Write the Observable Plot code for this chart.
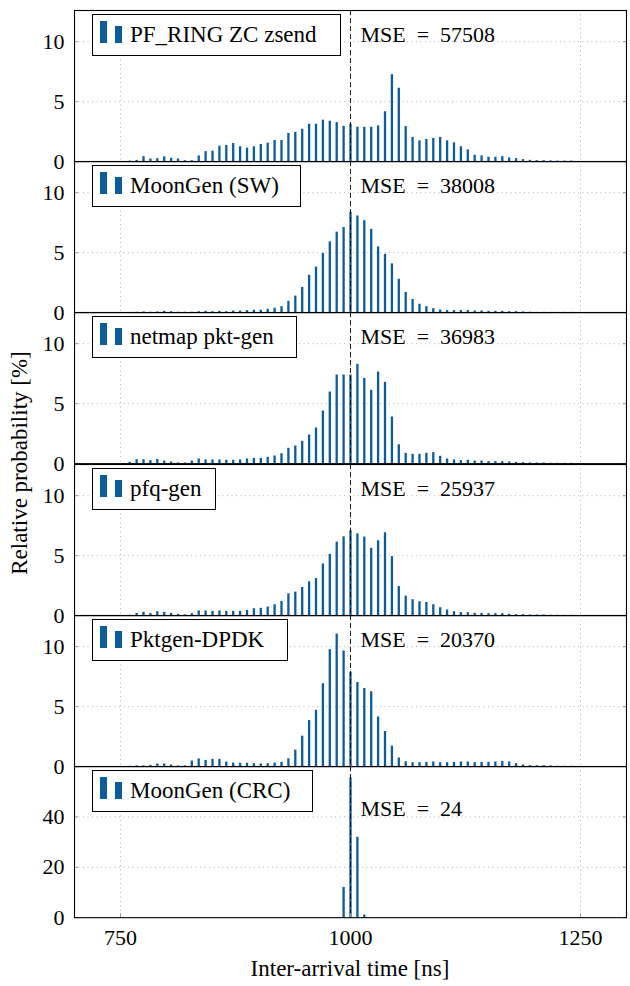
<!DOCTYPE html>
<html>
<head>
<meta charset="utf-8">
<script src="https://cdn.jsdelivr.net/npm/d3@7"></script>
<script src="https://cdn.jsdelivr.net/npm/@observablehq/plot@0.6"></script>
<style>
  body { margin: 0; background: #fff; }
  #chart { position: relative; width: 630px; height: 986px; font-family: "Liberation Serif", "DejaVu Serif", serif; color: #000; overflow: hidden; }
  .panel { position: absolute; left: 0; }
  .legend { position: absolute; left: 92px; height: 42px; border: 1px solid #000; background: #fff; box-sizing: border-box; font-size: 23px; white-space: nowrap; }
  .legend .ico { position: absolute; bottom: 12px; width: 7px; background: #0b5c9b; }
  .legend .lab { position: absolute; left: 37px; top: 50%; transform: translateY(-50%); }
  .xlabel { position: absolute; left: 74px; width: 552px; top: 956px; text-align: center; font-size: 23px; }
  .ylabel { position: absolute; left: 20px; top: 463px; font-size: 23px; transform: translate(-50%, -50%) rotate(-90deg); white-space: nowrap; }
</style>
</head>
<body>
<div id="chart"></div>
<script>
// Bin centres (ns)
const bins = [752.5, 760, 767.5, 775, 782.5, 790, 797.5, 805, 812.5, 820, 827.5, 835, 842.5, 850, 857.5, 865, 872.5, 880, 887.5, 895, 902.5, 910, 917.5, 925, 932.5, 940, 947.5, 955, 962.5, 970, 977.5, 985, 992.5, 1000,
  1007.5, 1015, 1022.5, 1030, 1037.5, 1045, 1052.5, 1060, 1067.5, 1075, 1082.5, 1090, 1097.5, 1105, 1112.5, 1120, 1127.5, 1135, 1142.5, 1150, 1157.5, 1165, 1172.5, 1180, 1187.5, 1195, 1202.5, 1210, 1217.5, 1225, 1232.5, 1240];

const pfring = [0, 0.05, 0.1, 0.42, 0.22, 0.25, 0.4, 0.28, 0.22, 0.08, 0.08, 0.48, 0.84, 0.87, 1.29, 1.35, 1.52, 1.24, 1.12, 1.24, 1.43, 1.54, 1.77, 1.77, 2.36, 2.44, 2.70, 3.12, 3.12, 3.46, 3.37, 3.26, 2.95, 3.12,
  2.87, 2.87, 2.87, 2.98, 4.16, 7.25, 6.12, 2.92, 2.02, 1.74, 1.85, 1.94, 2.02, 1.74, 1.57, 1.24, 0.98, 0.53, 0.48, 0.37, 0.37, 0.42, 0.31, 0.25, 0.17, 0.11, 0.08, 0.08, 0.06, 0.05, 0.05, 0.05];
const moongenSW = [0, 0, 0.03, 0.06, 0.03, 0.06, 0.11, 0.08, 0.03, 0.03, 0.03, 0.08, 0.11, 0.08, 0.11, 0.08, 0.14, 0.14, 0.17, 0.2, 0.2, 0.28, 0.37, 0.5, 0.95, 1.38, 2.1, 3.12, 3.8, 4.94, 5.9, 6.71, 7.1, 8.37,
  8.06, 7.67, 6.94, 5.48, 4.86, 4.07, 2.78, 1.69, 1.1, 0.7, 0.5, 0.34, 0.22, 0.17, 0.17, 0.17, 0.17, 0.14, 0.14, 0.11, 0.11, 0.11, 0.08, 0.08, 0.06, 0.03, 0.02, 0.02, 0.02, 0.02, 0.02, 0.02];
const netmap = [0, 0.11, 0.33, 0.33, 0.25, 0.36, 0.22, 0.14, 0.06, 0.06, 0.22, 0.39, 0.31, 0.31, 0.31, 0.28, 0.28, 0.31, 0.39, 0.44, 0.44, 0.53, 0.64, 0.83, 1.28, 1.47, 1.86, 2.39, 2.97, 4.39, 5.97, 7.39, 7.39, 7.39,
  8.28, 7.11, 6.11, 7.64, 6.78, 3.89, 1.58, 0.86, 0.78, 0.78, 0.86, 0.92, 0.61, 0.39, 0.31, 0.25, 0.28, 0.22, 0.22, 0.17, 0.17, 0.17, 0.14, 0.11, 0.08, 0.06, 0.06, 0.06, 0.03, 0.03, 0.03, 0.03];
const pfq = [0, 0.03, 0.19, 0.28, 0.17, 0.33, 0.28, 0.19, 0.11, 0.06, 0.17, 0.39, 0.39, 0.36, 0.39, 0.36, 0.36, 0.36, 0.44, 0.58, 0.61, 0.72, 0.91, 1.19, 1.82, 1.96, 2.35, 2.82, 3.09, 4.31, 5.11, 6.13, 6.57, 7.07,
  6.82, 6.55, 5.61, 6.24, 6.91, 4.92, 2.43, 1.63, 1.33, 1.16, 1.1, 0.91, 0.66, 0.47, 0.33, 0.25, 0.25, 0.19, 0.19, 0.17, 0.17, 0.17, 0.11, 0.08, 0.08, 0.06, 0.06, 0.06, 0.03, 0.03, 0.03, 0.03];
const pktgen = [0, 0.03, 0.06, 0.06, 0.11, 0.22, 0.22, 0.14, 0.06, 0.06, 0.47, 0.64, 0.52, 0.61, 0.61, 0.39, 0.3, 0.28, 0.28, 0.25, 0.22, 0.25, 0.3, 0.36, 0.66, 1.38, 2.54, 3.84, 4.7, 6.91, 9.75, 11.05, 9.64, 7.87,
  7.02, 6.52, 6.24, 4.14, 2.93, 1.71, 0.72, 0.41, 0.33, 0.33, 0.36, 0.39, 0.33, 0.33, 0.36, 0.39, 0.39, 0.33, 0.36, 0.36, 0.39, 0.44, 0.39, 0.25, 0.14, 0.08, 0.08, 0.08, 0.06, 0.03, 0.03, 0.03];
const crcBins = [992.5, 1000, 1007.5, 1015];
const crcVals = [12, 55.5, 31.9, 1.06];

const names = ["PF_RING ZC zsend", "MoonGen (SW)", "netmap pkt-gen", "pfq-gen", "Pktgen-DPDK", "MoonGen (CRC)"];
const mse = ["57508", "38008", "36983", "25937", "20370", "24"];
const xTicks = [750, 1000, 1250];
const yTicksSmall = [0, 5, 10];
const yTicksBig = [0, 20, 40];

const series = [
  {bins, vals: pfring, ymax: 12.6, ticks: yTicksSmall},
  {bins, vals: moongenSW, ymax: 12.6, ticks: yTicksSmall},
  {bins, vals: netmap, ymax: 12.6, ticks: yTicksSmall},
  {bins, vals: pfq, ymax: 12.6, ticks: yTicksSmall},
  {bins, vals: pktgen, ymax: 12.6, ticks: yTicksSmall},
  {bins: crcBins, vals: crcVals, ymax: 60, ticks: yTicksBig}
];
const legendWidths = [249, 209, 205, 124, 196, 221];
const barColor = "#0b5c9b";
const gridColor = "#b4b4b4";

const chart = document.getElementById("chart");
const panelTop0 = 10, panelH = 151.17;

series.forEach((s, i) => {
  const last = i === series.length - 1;
  const mt = 10, mb = last ? 69 : 10;
  const rows = s.bins.map((b, j) => ({t: b, p: s.vals[j]}));
  const svg = Plot.plot({
    width: 630,
    height: panelH + mt + mb,
    marginLeft: 74, marginRight: 4, marginTop: mt, marginBottom: mb,
    style: {fontFamily: '"Liberation Serif", serif', fontSize: "22px", background: "transparent", overflow: "visible", color: "#000"},
    x: {domain: [700, 1300]},
    y: {domain: [0, s.ymax]},
    marks: [
      Plot.gridX(xTicks, {stroke: gridColor, strokeOpacity: 1, strokeDasharray: "1,3.5", strokeWidth: 1}),
      Plot.gridY(s.ticks, {stroke: gridColor, strokeOpacity: 1, strokeDasharray: "1,3.5", strokeWidth: 1}),
      Plot.ruleX(rows, {x: "t", y1: 0, y2: "p", stroke: barColor, strokeWidth: 2.3}),
      Plot.ruleX([1000], {stroke: "#000", strokeDasharray: "5,3", strokeWidth: 0.9}),
      Plot.axisY(s.ticks, {anchor: "left", tickSize: -4, tickPadding: 14, stroke: "#999", label: null, fontSize: 22}),
      Plot.axisY(s.ticks, {anchor: "right", tickSize: -4, stroke: "#999", label: null, tickFormat: () => ""}),
      last
        ? Plot.axisX(xTicks, {anchor: "bottom", tickSize: -4, tickPadding: 16, stroke: "#999", label: null, fontSize: 22, tickFormat: d => String(d)})
        : Plot.axisX([], {label: null}),
      Plot.text([{t: 1000, y: s.ymax, label: "MSE\u2002=\u2002" + mse[i]}], {x: "t", y: "y", text: "label", textAnchor: "start", lineAnchor: "middle", dx: 10, dy: last ? 42 : 24, fontSize: 22}),
      Plot.frame({stroke: "#000", strokeWidth: 1.1})
    ]
  });
  svg.classList.add("panel");
  svg.style.top = (panelTop0 + i * panelH - mt) + "px";
  chart.appendChild(svg);

  const lg = document.createElement("div");
  lg.className = "legend";
  lg.style.top = (panelTop0 + i * panelH + 4) + "px";
  lg.style.width = legendWidths[i] + "px";
  const ico1 = document.createElement("span");
  ico1.className = "ico"; ico1.style.left = "7px"; ico1.style.height = "22px";
  const ico2 = document.createElement("span");
  ico2.className = "ico"; ico2.style.left = "22px"; ico2.style.height = "17px";
  const lab = document.createElement("span");
  lab.className = "lab"; lab.textContent = names[i];
  lg.appendChild(ico1); lg.appendChild(ico2); lg.appendChild(lab);
  chart.appendChild(lg);
});

const xl = document.createElement("div");
xl.className = "xlabel"; xl.textContent = "Inter-arrival time [ns]";
chart.appendChild(xl);
const yl = document.createElement("div");
yl.className = "ylabel"; yl.textContent = "Relative probability [%]";
chart.appendChild(yl);
</script>
</body>
</html>
